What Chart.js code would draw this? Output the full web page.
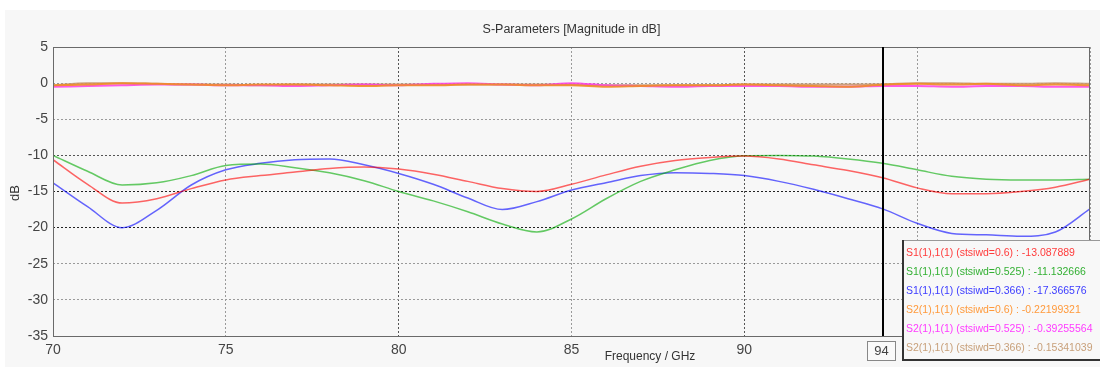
<!DOCTYPE html>
<html>
<head>
<meta charset="utf-8">
<script src="https://cdn.jsdelivr.net/npm/chart.js@4.4.0/dist/chart.umd.min.js"></script>
<style>
  body { margin: 0; background: #fff; }
  #wrap { width: 1100px; height: 367px; }
</style>
</head>
<body>
<div id="wrap"><canvas id="chart-sparam" width="1100" height="367"></canvas></div>
<script>
// frequency points (GHz) and S-parameter magnitudes (dB)
var freqs = [70, 71, 72, 73, 74, 75, 76, 77, 78, 79, 80, 81, 82, 83, 84, 85,
             86, 87, 88, 89, 90, 91, 92, 93, 94, 95, 96, 97, 98, 99, 100];

var s11_06   = [-10.6, -14.0, -16.6, -16.0, -14.6, -13.4, -12.8, -12.3, -11.8, -11.6, -11.9, -12.6, -13.6, -14.6, -15.0, -14.0,
                -12.7, -11.5, -10.7, -10.3, -10.1, -10.5, -11.3, -12.1, -13.1, -14.5, -15.3, -15.3, -15.0, -14.4, -13.3];
var s11_0525 = [-10.0, -12.2, -14.1, -13.8, -12.8, -11.4, -11.2, -11.7, -12.4, -13.5, -15.0, -16.3, -17.8, -19.5, -20.6, -18.8,
                -16.0, -13.6, -12.0, -10.7, -10.05, -10.0, -10.1, -10.5, -11.1, -12.0, -12.9, -13.3, -13.4, -13.4, -13.3];
var s11_0366 = [-13.8, -17.1, -20.0, -17.6, -14.1, -12.0, -11.1, -10.6, -10.5, -11.3, -12.5, -14.0, -15.9, -17.5, -16.4, -14.8,
                -13.8, -12.8, -12.4, -12.5, -12.8, -13.6, -14.7, -16.0, -17.4, -19.4, -20.8, -21.0, -21.2, -20.6, -17.4];
var s21_06   = [-0.3, -0.2, 0.0, -0.1, -0.2, -0.3, -0.2, -0.2, -0.3, -0.4, -0.3, -0.3, -0.2, -0.2, -0.3, -0.3,
                -0.5, -0.4, -0.3, -0.3, -0.2, -0.3, -0.4, -0.5, -0.22, -0.1, -0.2, -0.1, -0.3, -0.2, -0.3];
var s21_0525 = [-0.5, -0.4, -0.3, -0.2, -0.2, -0.3, -0.3, -0.4, -0.3, -0.2, -0.3, -0.1, 0.0, -0.2, -0.3, 0.0,
                -0.3, -0.4, -0.5, -0.4, -0.4, -0.4, -0.5, -0.5, -0.39, -0.4, -0.5, -0.4, -0.4, -0.5, -0.5];
var s21_0366 = [-0.3, 0.0, 0.0, -0.1, -0.2, -0.2, -0.3, -0.2, -0.2, -0.2, -0.2, -0.2, -0.2, -0.2, -0.2, -0.2,
                -0.3, -0.3, -0.3, -0.3, -0.2, -0.2, -0.2, -0.2, -0.15, 0.0, 0.0, -0.1, -0.1, 0.0, -0.1];

var markerFreq = 94;
var markerNames = ["S1(1),1(1) (stsiwd=0.6)", "S1(1),1(1) (stsiwd=0.525)", "S1(1),1(1) (stsiwd=0.366)",
                   "S2(1),1(1) (stsiwd=0.6)", "S2(1),1(1) (stsiwd=0.525)", "S2(1),1(1) (stsiwd=0.366)"];
var markerValues = ["-13.087889", "-11.132666", "-17.366576", "-0.22199321", "-0.39255564", "-0.15341039"];
var markerColors = ["#ff3c3c", "#33b033", "#3c3cff", "#ff9a3c", "#ff3cff", "#c8a07a"];

function pts(vals) {
    return vals.map(function(v, i) { return {x: freqs[i], y: v}; });
}

var lineColors = ["rgba(255,0,0,0.6)", "rgba(0,170,0,0.6)", "rgba(0,0,255,0.6)",
                  "rgba(240,140,40,0.9)", "rgba(255,60,230,0.85)", "rgba(200,150,110,0.9)"];
var series = [s11_06, s11_0525, s11_0366, s21_06, s21_0525, s21_0366];

var decor = {
    id: 'decor',
    beforeDraw: function(chart) {
        var c = chart.ctx;
        c.save();
        c.fillStyle = '#ffffff';
        c.fillRect(0, 0, chart.width, chart.height);
        c.fillStyle = '#f7f7f7';
        c.fillRect(5, 10, chart.width - 5, chart.height - 10);
        c.restore();
    },
    afterDraw: function(chart) {
        var c = chart.ctx, a = chart.chartArea;
        var xs = chart.scales.x;
        c.save();
        // frame
        c.strokeStyle = '#6a6a6a';
        c.lineWidth = 1;
        c.strokeRect(a.left + 0.5, a.top + 0.5, a.right - a.left - 1, a.bottom - a.top);
        // title and axis names
        c.fillStyle = '#333';
        c.font = '12.5px "Liberation Sans"';
        c.textAlign = 'center';
        c.textBaseline = 'middle';
        c.fillText('S-Parameters [Magnitude in dB]', (a.left + a.right) / 2, 30);
        c.font = '12px "Liberation Sans"';
        c.fillText('Frequency / GHz', 650, 357);
        c.save();
        c.translate(15, 193);
        c.rotate(-Math.PI / 2);
        c.font = '13px "Liberation Sans"';
        c.fillText('dB', 0, 0);
        c.restore();
        // marker line
        var mx = Math.round(xs.getPixelForValue(markerFreq));
        c.strokeStyle = '#000';
        c.lineWidth = 2;
        c.beginPath();
        c.moveTo(mx, a.top);
        c.lineTo(mx, a.bottom);
        c.stroke();
        c.fillStyle = '#fafafa';
        c.fillRect(mx - 16, 341, 28, 19);
        c.strokeStyle = '#888';
        c.lineWidth = 1;
        c.strokeRect(mx - 15.5, 341.5, 28, 19);
        c.fillStyle = '#444';
        c.font = '13px "Liberation Sans"';
        c.fillText(String(markerFreq), mx - 1.5, 351);
        // marker readout box
        c.fillStyle = '#f8f8f8';
        c.fillRect(903, 240, 200, 121);
        c.strokeStyle = '#999';
        c.beginPath();
        c.moveTo(903, 240.5);
        c.lineTo(1100, 240.5);
        c.stroke();
        c.strokeStyle = '#333';
        c.lineWidth = 2;
        c.beginPath();
        c.moveTo(903, 240);
        c.lineTo(903, 360);
        c.lineTo(1100, 360);
        c.stroke();
        c.textAlign = 'left';
        c.font = '10.5px "Liberation Sans"';
        for (var i = 0; i < markerNames.length; i++) {
            c.fillStyle = markerColors[i];
            c.fillText(markerNames[i] + ' : ' + markerValues[i], 906, 253 + i * 19);
        }
        c.restore();
    }
};

var ctx = document.getElementById('chart-sparam');
var sparam = new Chart(ctx, {
    type: 'line',
    data: {
        datasets: series.map(function(s, i) {
            return {
                label: markerNames[i],
                data: pts(s),
                borderColor: lineColors[i],
                borderWidth: i < 3 ? 1.5 : 2,
                pointRadius: 0,
                cubicInterpolationMode: 'monotone',
                fill: false
            };
        })
    },
    options: {
        responsive: false,
        animation: false,
        layout: { padding: { top: 47, right: 10, left: 0, bottom: 0 } },
        plugins: {
            legend: { display: false },
            title: { display: false },
            tooltip: { enabled: false }
        },
        scales: {
            x: {
                type: 'linear',
                min: 70,
                max: 100,
                afterFit: function(s) { s.height = 31; s.paddingLeft = 0; s.paddingRight = 0; },
                ticks: {
                    stepSize: 5,
                    padding: 6,
                    color: '#444',
                    font: { family: 'Liberation Sans', size: 14 }
                },
                grid: {
                    color: function(c) {
                        var v = c.tick && c.tick.value;
                        return (v === 80 || v === 90) ? '#555' : '#9a9a9a';
                    },
                    drawTicks: false
                },
                border: { display: false, dash: [2, 2] }
            },
            y: {
                min: -35,
                max: 5,
                afterFit: function(s) { s.width = 53; s.paddingTop = 0; s.paddingBottom = 0; },
                ticks: {
                    stepSize: 5,
                    padding: 5,
                    color: '#444',
                    font: { family: 'Liberation Sans', size: 14 }
                },
                grid: {
                    color: function(c) {
                        var v = c.tick && c.tick.value;
                        if (v === -15 || v === -20) return '#222';
                        if (v === -10) return '#555';
                        return '#9a9a9a';
                    },
                    drawTicks: false
                },
                border: { display: false, dash: [2, 2] }
            }
        }
    },
    plugins: [decor]
});
</script>
</body>
</html>
